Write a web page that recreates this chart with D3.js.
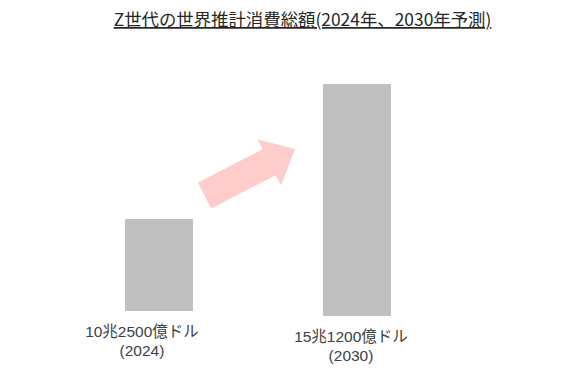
<!DOCTYPE html>
<html>
<head>
<meta charset="utf-8">
<script src="https://cdn.jsdelivr.net/npm/d3@7"></script>
<style>
  html, body { margin: 0; padding: 0; background: #fff; }
  svg { display: block; }
</style>
</head>
<body>
<svg id="chart" width="570" height="385"></svg>
<script>
// ---- data ----
const title = "Z世代の世界推計消費総額(2024年、2030年予測)";
const categories = ["2024", "2030"];
const values = [10.25, 15.12]; // 兆ドル
const valueLabels = ["10兆2500億ドル", "15兆1200億ドル"];
const yearLabels = ["(2024)", "(2030)"];

// ---- layout ----
const baseY = [311, 316];       // bar baselines (as drawn in the reference)
const labelDx = [-17, -6];      // label offsets from bar centre
const labelY = [337, 342];
const font = "'Noto Sans CJK JP', 'Noto Sans', sans-serif";
const labelFont = "'Liberation Sans', 'Noto Sans CJK JP', sans-serif";

const svg = d3.select("#chart");

const x = d3.scaleBand()
  .domain(categories)
  .range([125, 391])
  .paddingInner(0.6566)
  .paddingOuter(0);

const h = d3.scaleLinear()
  .domain([7.05, 15.12])
  .range([0, 232]);

// title
svg.append("text")
  .attr("x", 302.5).attr("y", 26)
  .attr("text-anchor", "middle")
  .attr("font-family", font)
  .attr("font-size", 17.4)
  .attr("fill", "#262626")
  .attr("text-decoration", "underline")
  .text(title);

// bars
svg.selectAll("rect.bar")
  .data(categories)
  .join("rect")
  .attr("class", "bar")
  .attr("x", d => x(d))
  .attr("width", x.bandwidth())
  .attr("y", (d, i) => baseY[i] - h(values[i]))
  .attr("height", (d, i) => h(values[i]))
  .attr("fill", "#bfbfbf");

// labels
categories.forEach((c, i) => {
  const cx = x(c) + x.bandwidth() / 2 + labelDx[i];
  svg.append("text")
    .attr("x", cx).attr("y", labelY[i])
    .attr("text-anchor", "middle")
    .attr("font-family", labelFont).attr("font-size", 15.5)
    .attr("fill", "#404040")
    .text(valueLabels[i]);
  svg.append("text")
    .attr("x", cx).attr("y", labelY[i] + 19)
    .attr("text-anchor", "middle")
    .attr("font-family", labelFont).attr("font-size", 15.5)
    .attr("fill", "#404040")
    .text(yearLabels[i]);
});

// arrow (decorative growth arrow)
const tail = [204.5, 195.5], tip = [295, 149];
const dx = tip[0] - tail[0], dy = tip[1] - tail[1];
const L = Math.hypot(dx, dy);
const ang = Math.atan2(dy, dx) * 180 / Math.PI;
const headLen = 29, shaftHalf = 14.5, headHalf = 26;
const pts = [
  [0, -shaftHalf], [L - headLen, -shaftHalf], [L - headLen, -headHalf],
  [L, 0],
  [L - headLen, headHalf], [L - headLen, shaftHalf], [0, shaftHalf]
];
svg.append("path")
  .attr("d", d3.line()(pts) + "Z")
  .attr("transform", `translate(${tail[0]},${tail[1]}) rotate(${ang})`)
  .attr("fill", "#ffcccc");
</script>
</body>
</html>
